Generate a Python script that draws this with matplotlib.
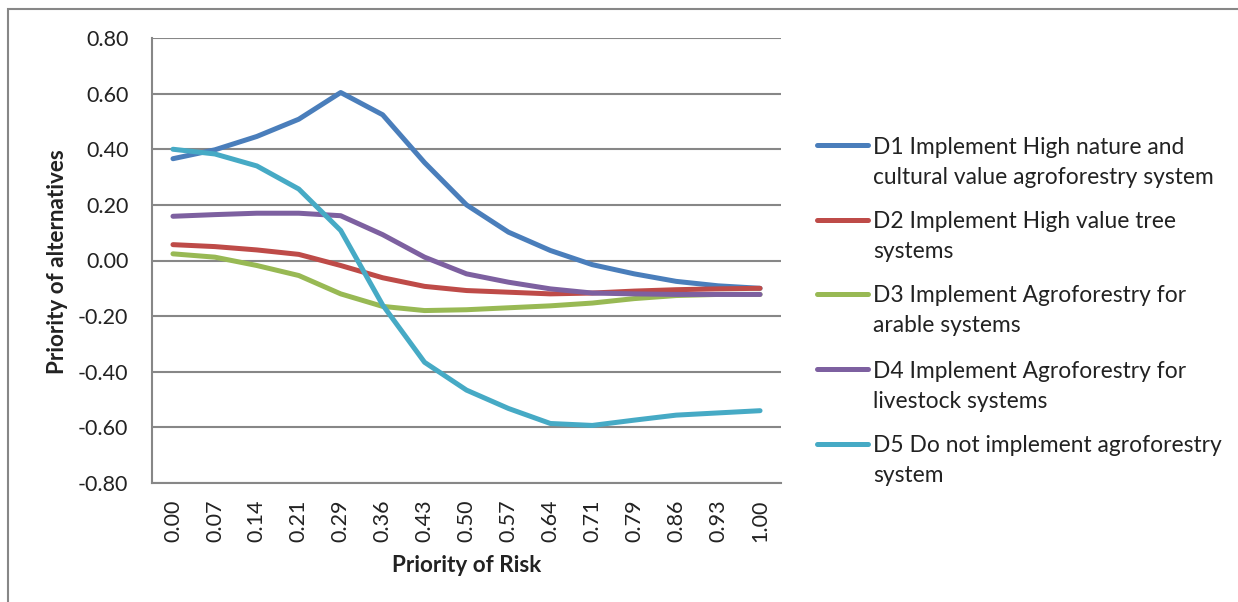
import matplotlib.pyplot as plt
from matplotlib.lines import Line2D
from matplotlib.patches import Rectangle

# category axis (priority of risk) and series values
risk = ["0.00", "0.07", "0.14", "0.21", "0.29", "0.36", "0.43", "0.50",
        "0.57", "0.64", "0.71", "0.79", "0.86", "0.93", "1.00"]

d1 = [0.366, 0.398, 0.446, 0.508, 0.604, 0.524, 0.352, 0.200,
      0.102, 0.036, -0.015, -0.048, -0.075, -0.091, -0.100]
d2 = [0.057, 0.050, 0.038, 0.022, -0.018, -0.062, -0.093, -0.108,
      -0.114, -0.120, -0.117, -0.110, -0.105, -0.102, -0.100]
d3 = [0.024, 0.012, -0.018, -0.054, -0.120, -0.165, -0.180, -0.177,
      -0.170, -0.163, -0.153, -0.137, -0.126, -0.122, -0.122]
d4 = [0.159, 0.165, 0.170, 0.170, 0.161, 0.093, 0.012, -0.048,
      -0.078, -0.102, -0.117, -0.120, -0.122, -0.122, -0.122]
d5 = [0.400, 0.383, 0.340, 0.257, 0.108, -0.160, -0.366, -0.466,
      -0.532, -0.586, -0.593, -0.574, -0.556, -0.548, -0.540]

labels = [
    "D1 Implement High nature and\ncultural value agroforestry system",
    "D2 Implement High value tree\nsystems",
    "D3 Implement Agroforestry for\narable systems",
    "D4 Implement Agroforestry for\nlivestock systems",
    "D5 Do not implement agroforestry\nsystem",
]
series = [d1, d2, d3, d4, d5]
colors = ['#4A7EBB', '#BE4B48', '#98B954', '#7D60A0', '#46AAC5']

plt.rcParams['font.family'] = ['Lato', 'DejaVu Sans']

W, H = 1238, 602
fig = plt.figure(figsize=(W / 100, H / 100), dpi=100)

# outer chart border (only top/left visible in the crop)
fig.patches.append(Rectangle((8 / W, -0.1), 1.2, 1 - 9 / H + 0.1,
                             transform=fig.transFigure, fill=False,
                             edgecolor='#878787', linewidth=1.5))

ax = fig.add_axes([152 / W, 1 - 483 / H, (781 - 152) / W, (483 - 38) / H])

x = list(range(len(risk)))
for vals, c in zip(series, colors):
    ax.plot(x, vals, color=c, linewidth=3.6, solid_capstyle='round',
            solid_joinstyle='round')

yt = [-0.8, -0.6, -0.4, -0.2, 0.0, 0.2, 0.4, 0.6, 0.8]
ax.set_xlim(-0.5, len(risk) - 0.5)
ax.set_ylim(-0.8, 0.8)
ax.set_yticks(yt)
ax.set_yticklabels([f"{v:.2f}" for v in yt])
ax.set_xticks(x)
ax.set_xticklabels(risk, rotation=90)
ax.tick_params(axis='both', length=0, labelsize=15.5, colors='#222222')
ax.tick_params(axis='y', pad=17)
ax.tick_params(axis='x', pad=12)

ax.grid(axis='y', color='#878787', linewidth=1.5)
ax.set_axisbelow(True)
for s in ['top', 'right']:
    ax.spines[s].set_visible(False)
for s in ['left', 'bottom']:
    ax.spines[s].set_color('#878787')
    ax.spines[s].set_linewidth(1.5)

fig.text(467 / W, 1 - 566 / H, "Priority of Risk", ha='center', va='center',
         fontsize=16.2, fontweight='bold', color='#222222')
fig.text(57 / W, 1 - 262 / H, "Priority of alternatives", ha='center', va='center',
         rotation=90, fontsize=16.2, fontweight='bold', color='#222222')

# legend, drawn Excel-style with the key next to the first text line
key_y = [145, 220, 294, 369, 444]
for lab, c, yy in zip(labels, colors, key_y):
    fig.add_artist(Line2D([817 / W, 868 / W], [1 - yy / H, 1 - yy / H],
                          transform=fig.transFigure, color=c, linewidth=3.6,
                          solid_capstyle='round'))
    for k, line in enumerate(lab.split("\n")):
        fig.text(873 / W, 1 - (yy + 30 * k) / H, line, ha='left',
                 va='center_baseline', fontsize=16.4, color='#222222')

fig.savefig('out.png', dpi=100)
